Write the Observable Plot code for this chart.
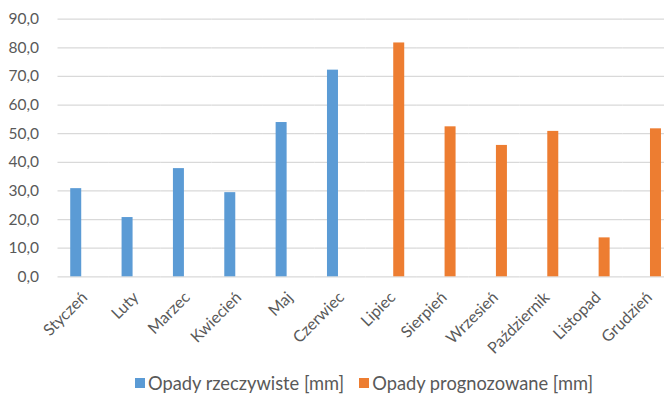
<!DOCTYPE html>
<html>
<head>
<meta charset="utf-8">
<script src="https://cdn.jsdelivr.net/npm/d3@7"></script>
<script src="https://cdn.jsdelivr.net/npm/@observablehq/plot@0.6"></script>
<style>
  html, body { margin: 0; padding: 0; background: #fff; }
  body { position: relative; width: 664px; height: 396px; overflow: hidden; font-family: Lato, "Open Sans", sans-serif; }
  #legend { position: absolute; left: 0; top: 371px; width: 664px; height: 24px; line-height: 24px; display: flex; justify-content: center; align-items: center; box-sizing: border-box; padding-left: 64px; font-size: 18.3px; color: #595959; }
  .item { display: flex; align-items: center; margin: 0 7.5px; }
  .sw { width: 10px; height: 10px; margin-right: 3px; }
</style>
</head>
<body>
<div id="chart"></div>
<div id="legend"></div>
<script>
const months = ["Styczeń","Luty","Marzec","Kwiecień","Maj","Czerwiec","Lipiec","Sierpień","Wrzesień","Październik","Listopad","Grudzień"];
const seriesNames = ["Opady rzeczywiste [mm]", "Opady prognozowane [mm]"];
const seriesColors = ["#5B9BD5", "#ED7D31"];
const actual = [30.8, 20.7, 37.8, 29.4, 53.9, 72.2];
const forecast = [81.7, 52.4, 45.9, 50.8, 13.6, 51.7];
const yTicks = [0, 10, 20, 30, 40, 50, 60, 70, 80, 90];

const data = [
  ...actual.map((v, i) => ({month: months[i], series: seriesNames[0], value: v})),
  ...forecast.map((v, i) => ({month: months[i + 6], series: seriesNames[1], value: v}))
];

const H = 370;
const chart = Plot.plot({
  width: 664,
  height: H,
  marginLeft: 57.5,
  marginRight: -9.7,
  marginTop: 18.7,
  marginBottom: H - 276.3,
  style: {fontFamily: "Lato, 'Open Sans', sans-serif", fontSize: "15.5px", color: "#595959", background: "#fff", overflow: "visible"},
  fx: {domain: months, padding: 0, round: false, label: null, axis: null},
  x: {domain: seriesNames, paddingInner: 0.262, paddingOuter: 0.854, round: false, axis: null},
  y: {domain: [0, 90], ticks: yTicks, tickSize: 0, tickPadding: 19, label: null,
      tickFormat: d => d.toFixed(1).replace(".", ",")},
  color: {domain: seriesNames, range: seriesColors},
  marks: [
    Plot.ruleY(yTicks, {stroke: "#d9d9d9", strokeWidth: 1.2}),
    Plot.barY(data, {fx: "month", x: "series", y: "value", fill: "series"}),
    Plot.axisFx({anchor: "bottom", tickRotate: -45, tickSize: 0, tickPadding: 6, fontSize: 16, label: null, fill: "#595959"})
  ]
});
// shift rotated month labels downward in screen space
chart.querySelectorAll('g[aria-label="fx-axis tick label"] text').forEach(t => {
  t.setAttribute("transform", "translate(1,12) " + (t.getAttribute("transform") || ""));
});
document.getElementById("chart").appendChild(chart);

const legend = document.getElementById("legend");
seriesNames.forEach((name, i) => {
  const item = document.createElement("div");
  item.className = "item";
  const sw = document.createElement("div");
  sw.className = "sw";
  sw.style.background = seriesColors[i];
  const t = document.createElement("span");
  t.textContent = name;
  item.appendChild(sw);
  item.appendChild(t);
  legend.appendChild(item);
});
</script>
</body>
</html>
